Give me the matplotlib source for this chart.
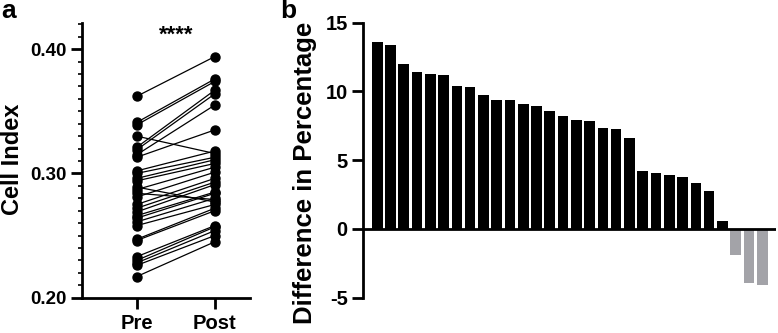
import matplotlib
matplotlib.use("Agg")
import matplotlib.pyplot as plt
from matplotlib.ticker import MultipleLocator
import numpy as np

plt.rcParams['font.family'] = ['Liberation Sans', 'DejaVu Sans']
plt.rcParams['font.weight'] = 'bold'

# Panel a data
groups = ["Pre", "Post"]
pre = [0.362, 0.341, 0.339, 0.330, 0.321, 0.319, 0.315, 0.313, 0.302, 0.300,
       0.296, 0.294, 0.289, 0.287, 0.284, 0.281, 0.275, 0.272, 0.269, 0.266,
       0.264, 0.261, 0.258, 0.247, 0.246, 0.233, 0.230, 0.228, 0.226, 0.217]
post = [0.394, 0.376, 0.374, 0.316, 0.367, 0.364, 0.355, 0.335, 0.318, 0.313,
        0.311, 0.308, 0.277, 0.305, 0.279, 0.301, 0.296, 0.293, 0.291, 0.285,
        0.284, 0.280, 0.275, 0.272, 0.270, 0.258, 0.257, 0.254, 0.250, 0.245]
a_yticks = [0.20, 0.30, 0.40]
a_yticklabels = ["0.20", "0.30", "0.40"]
signif = "****"

# Panel b data
diff_pct = [13.6, 13.4, 12.0, 11.4, 11.3, 11.2, 10.4, 10.3, 9.75, 9.4,
            9.4, 9.1, 8.95, 8.55, 8.25, 7.95, 7.85, 7.35, 7.25, 6.65,
            4.25, 4.05, 3.9, 3.75, 3.35, 2.75, 0.6, -1.9, -3.9, -4.1]
b_yticks = [-5, 0, 5, 10, 15]
b_yticklabels = ["-5", "0", "5", "10", "15"]

W, H = 778, 333
fig = plt.figure(figsize=(W / 100, H / 100), dpi=100)

def box(x0, y0, x1, y1):
    return [x0 / W, 1 - y1 / H, (x1 - x0) / W, (y1 - y0) / H]

TFS = 13.5
XFS = 14.5
LW = 2.0

# ---- Panel a ----
axa = fig.add_axes(box(82, 23, 250, 297.7))
for p, q in zip(pre, post):
    axa.plot([0, 1], [p, q], color='black', lw=0.9, zorder=2)
axa.scatter(np.zeros(len(pre)), pre, s=42, color='black', zorder=3, clip_on=False)
axa.scatter(np.ones(len(post)), post, s=42, color='black', zorder=3, clip_on=False)
axa.set_xlim(-0.70, 1.45)
axa.set_ylim(0.20, 0.421)
axa.set_xticks([0, 1])
axa.set_xticklabels(groups, fontsize=XFS, fontweight='bold')
axa.set_yticks(a_yticks)
axa.set_yticklabels(a_yticklabels, fontsize=TFS, fontweight='bold')
axa.yaxis.set_minor_locator(MultipleLocator(0.01))
axa.set_ylabel("Cell Index", fontsize=17, fontweight='bold')
axa.yaxis.set_label_coords(-0.345, 0.505)
for s in ['top', 'right']:
    axa.spines[s].set_visible(False)
for s in ['left', 'bottom']:
    axa.spines[s].set_linewidth(LW)
axa.tick_params(axis='y', which='major', width=LW, length=8, pad=3)
axa.tick_params(axis='x', which='major', width=LW, length=8, pad=3.5)
axa.tick_params(axis='y', which='minor', width=1.2, length=3)
axa.text(0.5, 0.411, signif, ha='center', va='center', fontsize=16, fontweight='bold')

# ---- Panel b ----
axb = fig.add_axes(box(363, 22.7, 776, 297.7))
x = np.arange(len(diff_pct))
colors = ['black' if v >= 0 else '#a3a3a8' for v in diff_pct]
axb.bar(x, diff_pct, width=0.8, color=colors, zorder=2)
axb.axhline(0, color='black', lw=LW, zorder=3)
axb.set_xlim(-1.07, 30.04)
axb.set_ylim(-5, 15)
axb.set_yticks(b_yticks)
axb.set_yticklabels(b_yticklabels, fontsize=14.5, fontweight='bold')
axb.set_xticks([])
axb.set_ylabel("Difference in Percentage", fontsize=18.5, fontweight='bold')
axb.yaxis.set_label_coords(-0.112, 0.455)
for s in ['top', 'right', 'bottom']:
    axb.spines[s].set_visible(False)
axb.spines['left'].set_linewidth(LW)
axb.tick_params(axis='y', width=LW, length=8, pad=3)

fig.text(1 / W, 1 - 11 / H, "a", fontsize=19, fontweight='bold', va='center', ha='left')
fig.text(280 / W, 1 - 11 / H, "b", fontsize=19, fontweight='bold', va='center', ha='left')

fig.savefig("out.png", dpi=100)
